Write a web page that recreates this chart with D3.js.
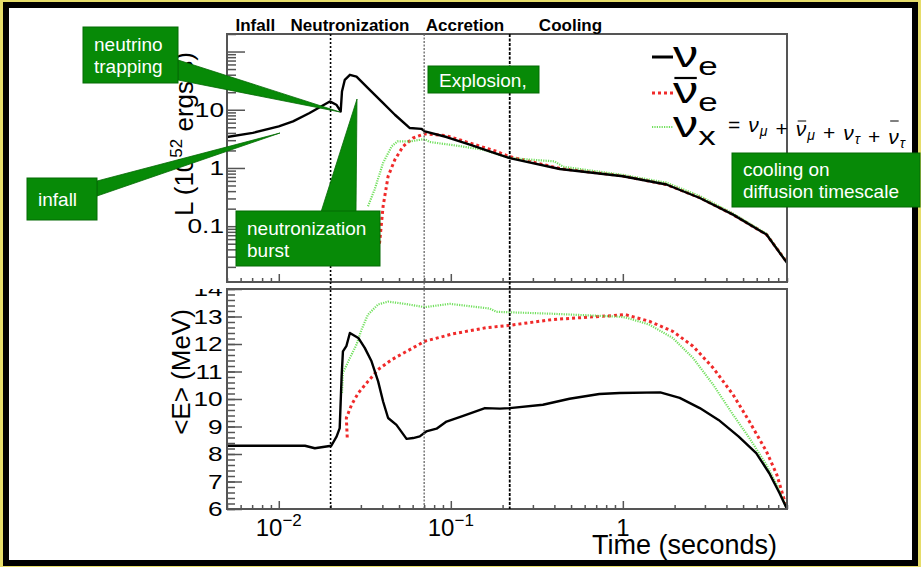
<!DOCTYPE html>
<html>
<head>
<meta charset="utf-8">
<script src="https://cdn.jsdelivr.net/npm/d3@7"></script>
<style>
  body { margin: 0; background: #e6dd6a; }
  svg { display: block; }
  text { font-family: "Liberation Sans", Arial, sans-serif; }
</style>
</head>
<body>
<script>
// ---- data ----
// luminosity (10^52 erg/s) vs time (s)
const tNuE_L   = [0.005, 0.00706, 0.01, 0.0121, 0.0151, 0.0198, 0.0216, 0.0229, 0.0233, 0.0242, 0.0259, 0.0283, 0.033, 0.0395, 0.0473, 0.0578, 0.0674, 0.0706, 0.0944, 0.129, 0.168, 0.22, 0.43, 1.0, 1.79, 2.8, 4.37, 6.84, 9];
const lumNuE   = [3.4, 4.0, 5.17, 6.3, 8.8, 13.9, 12.2, 9.36, 20.6, 32.7, 39.8, 37, 23.6, 13.9, 8.2, 4.85, 4.7, 4.25, 3.4, 2.51, 1.93, 1.48, 0.96, 0.72, 0.52, 0.305, 0.158, 0.0718, 0.0234];
const tNuEbar_L = [0.0385, 0.0404, 0.0432, 0.0473, 0.0528, 0.0604, 0.0706, 0.0944, 0.129, 0.184, 0.22, 0.43, 1.0, 1.79, 2.8, 4.37, 6.84, 9];
const lumNuEbar = [0.05, 0.22, 0.72, 1.39, 2.35, 3.27, 3.87, 3.58, 2.68, 1.93, 1.56, 0.98, 0.73, 0.52, 0.31, 0.158, 0.072, 0.024];
const tNuX_L   = [0.033, 0.036, 0.0404, 0.0453, 0.049, 0.0578, 0.0706, 0.0755, 0.108, 0.154, 0.22, 0.3, 0.4, 0.45, 1.0, 1.79, 2.8, 4.37, 6.84, 9];
const lumNuX   = [0.22, 0.42, 1.22, 2.35, 2.86, 2.86, 3.14, 2.79, 2.42, 2.06, 1.48, 1.38, 1.3, 1.05, 0.76, 0.56, 0.33, 0.165, 0.074, 0.024];

// mean energy (MeV) vs time (s)
const tNuE_E   = [0.005, 0.0142, 0.0162, 0.0202, 0.0217, 0.0226, 0.0232, 0.0236, 0.0247, 0.0259, 0.029, 0.0316, 0.0346, 0.0378, 0.0404, 0.0432, 0.0483, 0.0553, 0.0604, 0.066, 0.072, 0.0826, 0.0944, 0.118, 0.158, 0.193, 0.22, 0.343, 0.49, 0.73, 0.96, 1.65, 2.14, 2.8, 3.6, 4.7, 5.96, 7.1, 8.15, 9];
const eNuE     = [8.3, 8.3, 8.21, 8.3, 8.64, 8.94, 10.85, 11.73, 11.92, 12.4, 12.22, 11.86, 11.37, 10.64, 9.91, 9.31, 9.06, 8.55, 8.58, 8.64, 8.82, 8.92, 9.18, 9.39, 9.67, 9.65, 9.67, 9.79, 10.01, 10.18, 10.22, 10.24, 10.04, 9.67, 9.24, 8.64, 8.03, 7.3, 6.57, 6.0];
const tNuEbar_E = [0.025, 0.0247, 0.0265, 0.029, 0.033, 0.0378, 0.0453, 0.0553, 0.0706, 0.103, 0.16, 0.22, 0.39, 0.96, 1.03, 1.42, 1.95, 2.56, 3.35, 4.37, 5.44, 6.84, 7.86, 9];
const eNuEbar  = [8.6, 9.31, 9.79, 10.22, 10.64, 11.07, 11.43, 11.73, 12.1, 12.37, 12.59, 12.68, 12.89, 13.05, 13.07, 12.83, 12.46, 11.92, 11.13, 10.16, 9.18, 8.09, 7.24, 6.0];
const tNuX_E   = [0.0233, 0.0236, 0.0259, 0.0283, 0.0303, 0.033, 0.0378, 0.0432, 0.054, 0.0706, 0.0987, 0.168, 0.184, 0.39, 0.96, 1.03, 1.42, 1.95, 2.56, 3.35, 4.37, 5.44, 6.84, 7.86, 9];
const eNuX     = [10.22, 10.95, 11.49, 11.98, 12.53, 13.07, 13.44, 13.54, 13.46, 13.34, 13.46, 13.29, 13.17, 13.1, 12.99, 12.97, 12.71, 12.22, 11.49, 10.52, 9.43, 8.58, 7.6, 6.87, 6.0];

// phase boundaries and phase names
const boundaries = [0.02, 0.07, 0.22];
const phaseNames = ["Infall", "Neutronization", "Accretion", "Cooling"];
const phaseStart = [0.0056, 0.0117, 0.0715, 0.325];

// tick values
const xMajor = [0.01, 0.1, 1];
const xMinor = [0.005, 0.006, 0.007, 0.008, 0.009, 0.02, 0.03, 0.04, 0.05, 0.06, 0.07, 0.08, 0.09, 0.2, 0.3, 0.4, 0.5, 0.6, 0.7, 0.8, 0.9, 2, 3, 4, 5, 6, 7, 8, 9];
const xLabels = [["10", "\u22122"], ["10", "\u22121"], ["1", ""]];
const lMajor = [0.1, 1, 10, 100];
const lMinor = [0.02, 0.03, 0.04, 0.05, 0.06, 0.07, 0.08, 0.09, 0.2, 0.3, 0.4, 0.5, 0.6, 0.7, 0.8, 0.9, 2, 3, 4, 5, 6, 7, 8, 9, 20, 30, 40, 50, 60, 70, 80, 90, 200];
const lLabels = ["0.1", "1", "10"];
const eMajor = d3.range(6, 15, 1);
const eMinor = d3.range(6, 14.01, 0.2);

// legend
const legendSym = [["\u03BD", "e", false], ["\u03BD", "e", true], ["\u03BD", "x", false]];
const formulaParts = [["=", "", false], ["\u03BD", "\u03BC", false], ["+", "", false], ["\u03BD", "\u03BC", true], ["+", "", false], ["\u03BD", "\u03C4", false], ["+", "", false], ["\u03BD", "\u03C4", true]];

// ---- layout ----
const width = 921, height = 567;
const left = 227, right = 787;
const top1 = 34, bot1 = 282, top2 = 289, bot2 = 509;

const svg = d3.select("body").append("svg")
    .attr("width", width)
    .attr("height", height);

// outer frame
svg.append("rect").attr("x", 0).attr("y", 0).attr("width", width).attr("height", height).attr("fill", "#e6dd6a");
svg.append("rect").attr("x", 6).attr("y", 5).attr("width", 909).attr("height", 558)
    .attr("fill", "#fff").attr("stroke", "#000").attr("stroke-width", 6);

const x = d3.scaleLog().domain([0.005, 9]).range([left, right]);
const yL = d3.scaleLog().domain([0.011, 200]).range([bot1, top1]);
const yE = d3.scaleLinear().domain([6, 14]).range([bot2, top2]);

const defs = svg.append("defs");
defs.append("clipPath").attr("id", "clip1").append("rect")
    .attr("x", left).attr("y", top1).attr("width", right - left).attr("height", bot1 - top1);
defs.append("clipPath").attr("id", "clip2").append("rect")
    .attr("x", left).attr("y", top2).attr("width", right - left).attr("height", bot2 - top2);

// styles for the three flavours
const styles = [
  { stroke: "#000", width: 2.4, dash: null },
  { stroke: "#f02a2a", width: 3, dash: "3,3" },
  { stroke: "#72e05e", width: 2.2, dash: "1.2,1.2" }
];

function drawSeries(g, ts, vs, yScale, st) {
  const pts = ts.map((t, i) => [t, vs[i]]);
  g.append("path")
    .attr("d", d3.line().x(d => x(d[0])).y(d => yScale(d[1]))(pts))
    .attr("fill", "none")
    .attr("stroke", st.stroke)
    .attr("stroke-width", st.width)
    .attr("stroke-linejoin", "round")
    .attr("stroke-dasharray", st.dash);
}

// ---- bottom panel: mean energy ----
const p2 = svg.append("g");
const yEaxis = p2.append("g").attr("transform", `translate(${left},0)`);
yEaxis.append("g").call(d3.axisLeft(yE).tickValues(eMinor).tickSize(-8).tickFormat(""));
yEaxis.append("g").call(d3.axisLeft(yE).tickValues(eMajor).tickSize(-15).tickPadding(4).tickFormat(d3.format("d")));
yEaxis.selectAll(".domain").remove();
yEaxis.selectAll(".tick line").attr("stroke", "#555").attr("stroke-width", 1.5);
yEaxis.selectAll(".tick text")
    .attr("font-family", "Liberation Sans, Arial, sans-serif")
    .attr("font-size", 21).attr("fill", "#000")
    .attr("transform", "scale(1.25,1)")
    .attr("x", -3.5);

const xAxis2 = p2.append("g").attr("transform", `translate(0,${bot2})`);
xAxis2.append("g").call(d3.axisBottom(x).tickValues(xMinor).tickSize(-4).tickFormat(""));
xAxis2.append("g").call(d3.axisBottom(x).tickValues(xMajor).tickSize(-8).tickFormat(""));
xAxis2.selectAll(".domain").remove();
xAxis2.selectAll(".tick line").attr("stroke", "#555").attr("stroke-width", 1.5);

// x tick labels with exponents
xMajor.forEach((v, i) => {
  const t = p2.append("text")
      .attr("x", x(v))
      .attr("y", 536)
      .attr("text-anchor", "middle")
      .attr("font-size", 24);
  t.append("tspan").text(xLabels[i][0]);
  if (xLabels[i][1]) {
    t.append("tspan").attr("dy", -10).attr("font-size", 17).text(xLabels[i][1]);
  }
});

const lines2 = p2.append("g").attr("clip-path", "url(#clip2)");
drawSeries(lines2, tNuEbar_E, eNuEbar, yE, styles[1]);
drawSeries(lines2, tNuX_E, eNuX, yE, styles[2]);
drawSeries(lines2, tNuE_E, eNuE, yE, styles[0]);

p2.append("rect").attr("x", left).attr("y", top2).attr("width", right - left).attr("height", bot2 - top2)
    .attr("fill", "none").attr("stroke", "#555").attr("stroke-width", 2);

p2.append("text")
    .attr("transform", `translate(190,372) rotate(-90)`)
    .attr("text-anchor", "middle")
    .attr("font-size", 26)
    .text("<E> (MeV)");

p2.append("text")
    .attr("x", 777).attr("y", 554)
    .attr("text-anchor", "end")
    .attr("font-size", 27)
    .text("Time (seconds)");

// ---- top panel: luminosity ----
const p1 = svg.append("g");
// white pad that cuts the top of the "14" label, as in the original
p1.append("rect").attr("x", 150).attr("y", 270).attr("width", left - 151).attr("height", 19).attr("fill", "#fff");

const yLaxis = p1.append("g").attr("transform", `translate(${left},0)`);
yLaxis.append("g").call(d3.axisLeft(yL).tickValues(lMinor).tickSize(-9).tickFormat(""));
yLaxis.append("g").call(d3.axisLeft(yL).tickValues(lMajor).tickSize(-18).tickFormat(""));
yLaxis.selectAll(".domain").remove();
yLaxis.selectAll(".tick line").attr("stroke", "#555").attr("stroke-width", 1.5);
lLabels.forEach(v => {
  p1.append("text")
    .attr("transform", `translate(${left - 3},${yL(+v) + 7}) scale(1.25,1)`)
    .attr("text-anchor", "end")
    .attr("font-size", 21)
    .text(v);
});

const xAxis1 = p1.append("g").attr("transform", `translate(0,${bot1})`);
xAxis1.append("g").call(d3.axisBottom(x).tickValues(xMinor).tickSize(-4).tickFormat(""));
xAxis1.append("g").call(d3.axisBottom(x).tickValues(xMajor).tickSize(-8).tickFormat(""));
xAxis1.selectAll(".domain").remove();
xAxis1.selectAll(".tick line").attr("stroke", "#555").attr("stroke-width", 1.5);

const lines1 = p1.append("g").attr("clip-path", "url(#clip1)");
drawSeries(lines1, tNuEbar_L, lumNuEbar, yL, styles[1]);
drawSeries(lines1, tNuX_L, lumNuX, yL, styles[2]);
drawSeries(lines1, tNuE_L, lumNuE, yL, styles[0]);

p1.append("rect").attr("x", left).attr("y", top1).attr("width", right - left).attr("height", bot1 - top1)
    .attr("fill", "none").attr("stroke", "#555").attr("stroke-width", 2);

const yTitle = p1.append("text")
    .attr("transform", `translate(193,216) rotate(-90)`)
    .attr("text-anchor", "start")
    .attr("font-size", 26);
yTitle.append("tspan").text("L (10");
yTitle.append("tspan").attr("dy", -11).attr("font-size", 17).text("52");
yTitle.append("tspan").attr("dy", 11).text(" ergs/s)");

// phase boundaries across both panels
const bStyles = [
  { stroke: "#000", width: 1.6, dash: "2,2" },
  { stroke: "#666", width: 1.3, dash: "2,1.5" },
  { stroke: "#000", width: 1.8, dash: "3,1.5" }
];
boundaries.forEach((b, i) => {
  svg.append("line")
    .attr("x1", x(b)).attr("x2", x(b))
    .attr("y1", top1).attr("y2", bot2)
    .attr("stroke", bStyles[i].stroke)
    .attr("stroke-width", bStyles[i].width)
    .attr("stroke-dasharray", bStyles[i].dash);
});

phaseNames.forEach((n, i) => {
  svg.append("text")
    .attr("x", x(phaseStart[i])).attr("y", 31)
    .attr("font-size", 17).attr("font-weight", "bold")
    .text(n);
});

// ---- legend ----
const legendY = [57, 93, 127];
legendSym.forEach((s, i) => {
  svg.append("line")
    .attr("x1", 652).attr("x2", 673)
    .attr("y1", legendY[i]).attr("y2", legendY[i])
    .attr("stroke", styles[i].stroke)
    .attr("stroke-width", i === 0 ? 3 : styles[i].width)
    .attr("stroke-dasharray", styles[i].dash);
  const g = svg.append("g").attr("transform", `translate(673,${legendY[i] + 10}) scale(1.4,1)`);
  const t = g.append("text").attr("font-size", 36);
  t.append("tspan").text(s[0]);
  t.append("tspan").attr("dy", 8).attr("font-size", 25).text(s[1]);
  if (s[2]) {
    const ext = t.node().getExtentOfChar(0);
    g.append("line")
      .attr("x1", ext.x + 1).attr("x2", ext.x + ext.width - 1)
      .attr("y1", -25).attr("y2", -25)
      .attr("stroke", "#000").attr("stroke-width", 2.2);
  }
});

const formula = svg.append("text")
    .attr("x", 728).attr("y", 132)
    .attr("font-family", "Liberation Serif, DejaVu Serif, serif")
    .attr("font-size", 21)
    .attr("textLength", 177)
    .attr("lengthAdjust", "spacing");
let charIdx = 0;
const barIdx = [];
formulaParts.forEach((p, i) => {
  const lead = i === 0 ? "" : " ";
  formula.append("tspan").attr("font-style", p[0] === "\u03BD" ? "italic" : null).text(lead + p[0]);
  if (p[2]) barIdx.push(charIdx + lead.length);
  charIdx += lead.length + p[0].length;
  if (p[1]) {
    formula.append("tspan").attr("dy", 4).attr("font-size", 14).attr("font-style", "italic").text(p[1]);
    formula.append("tspan").attr("dy", -4).text("");
    charIdx += p[1].length;
  }
});
barIdx.forEach(k => {
  const ext = formula.node().getExtentOfChar(k);
  svg.append("line")
    .attr("x1", ext.x + 2).attr("x2", ext.x + ext.width)
    .attr("y1", 121).attr("y2", 121)
    .attr("stroke", "#000").attr("stroke-width", 1);
});

// ---- green callouts ----
const green = "#078a07";
const callouts = [
  { lines: ["neutrino", "trapping"], box: [83, 27, 95, 56], tip: [340, 112], base: [[178, 60], [178, 80]] },
  { lines: ["infall"], box: [27, 178, 70, 42], tip: [280, 133], base: [[97, 181], [97, 196]] },
  { lines: ["neutronization", "burst"], box: [236, 211, 144, 55], tip: [357, 99], base: [[321, 212], [356, 212]] },
  { lines: ["Explosion,"], box: [428, 66, 111, 27], tip: null },
  { lines: ["cooling on", "diffusion timescale"], box: [732, 153, 188, 54], tip: null }
];
callouts.forEach(c => {
  if (c.tip) {
    svg.append("polygon")
      .attr("points", [c.base[0], c.tip, c.base[1]].map(p => p.join(",")).join(" "))
      .attr("fill", green).attr("stroke", "#056a05").attr("stroke-width", 0.8);
  }
  const [bx, by, bw, bh] = c.box;
  svg.append("rect").attr("x", bx).attr("y", by).attr("width", bw).attr("height", bh)
    .attr("fill", green).attr("stroke", "#056a05").attr("stroke-width", 1);
  const n = c.lines.length;
  c.lines.forEach((l, i) => {
    svg.append("text")
      .attr("x", bx + 11)
      .attr("y", by + bh / 2 + 7 + (i - (n - 1) / 2) * 22)
      .attr("fill", "#fff")
      .attr("font-size", 19)
      .text(l);
  });
});
</script>
</body>
</html>
